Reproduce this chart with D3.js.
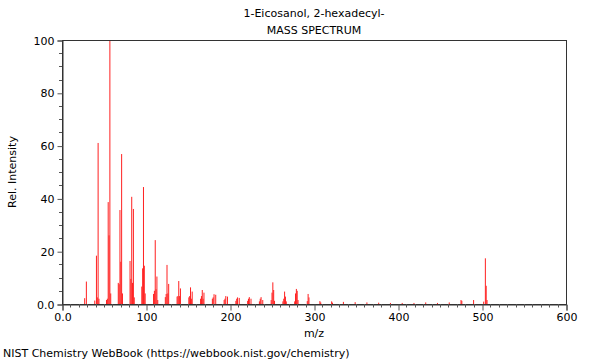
<!DOCTYPE html>
<html><head><meta charset="utf-8">
<script src="https://cdn.jsdelivr.net/npm/d3@7"></script>
<style>body{margin:0;background:#fff}svg{display:block}text{font-family:"DejaVu Sans",sans-serif;fill:#000}</style>
</head><body><svg id="c" width="600" height="360"></svg>
<script>
const titleLines = ["1-Eicosanol, 2-hexadecyl-", "MASS SPECTRUM"];
const xLabel = "m/z";
const yLabel = "Rel. Intensity";
const credit = "NIST Chemistry WebBook (https://webbook.nist.gov/chemistry)";
const xTicks = [0, 100, 200, 300, 400, 500, 600];
const xTickLabels = ["0.0", "100", "200", "300", "400", "500", "600"];
const yTicks = [0, 20, 40, 60, 80, 100];
const yTickLabels = ["0.0", "20", "40", "60", "80", "100"];
const mz = [27,29,39,41,42,43,44,53,54,55,56,57,58,67,68,69,70,71,72,81,82,83,84,85,86,95,96,97,98,99,
  109,110,111,112,113,114,123,124,125,126,127,137,138,139,140,141,151,152,153,154,155,165,166,167,168,169,
  179,180,181,183,193,194,195,197,207,208,209,211,221,222,223,225,235,236,237,239,249,250,251,252,253,
  263,264,265,266,267,277,278,279,280,281,292,293,294,307,308,321,322,335,349,363,377,391,405,419,433,447,461,
  475,476,490,502,504,505,506];
const intensity = [2.2,8.5,1.3,18.3,2.5,61.0,2.0,1.5,2.0,38.6,26.0,100,4.0,8.0,7.5,35.6,16.0,56.8,4.0,16.3,9.5,40.6,8.0,36.0,2.5,6.6,13.5,44.3,14.5,4.0,
  3.8,5.0,24.2,5.6,10.4,1.5,2.6,3.8,14.8,4.0,7.6,2.8,3.0,8.7,3.0,5.9,2.5,3.0,6.3,2.0,4.7,2.0,3.0,5.3,2.0,4.3,
  2.0,2.5,3.7,3.5,1.5,2.0,3.0,2.8,1.2,2.0,2.5,2.3,1.2,2.0,2.6,2.0,1.0,2.0,2.6,1.5,1.5,4.3,8.2,5.3,1.2,
  1.0,2.0,4.7,2.8,1.0,1.0,4.0,5.7,5.0,1.5,1.1,3.8,2.5,1.1,0.6,1.0,0.5,0.8,0.7,0.6,0.5,0.4,0.4,0.4,0.6,0.4,0.6,
  1.5,1.2,1.5,0.9,17.3,6.9,1.5];

const svg = d3.select("#c");
const L = 62, R = 566, T = 40, B = 304;
const x = d3.scaleLinear().domain([0, 600]).range([L, R]);
const y = d3.scaleLinear().domain([0, 100]).range([B, T]);

// peaks
const peaks = mz.map((m, i) => ({m, v: intensity[i]}));
svg.append("g").selectAll("line").data(peaks).join("line")
  .attr("x1", d => x(d.m)).attr("x2", d => x(d.m))
  .attr("y1", y(0)).attr("y2", d => y(d.v))
  .attr("stroke", "#ff2020").attr("stroke-width", 1);

// frame
svg.append("rect").attr("x", L + 0.5).attr("y", T + 0.5).attr("width", R - L).attr("height", B - T)
  .attr("fill", "none").attr("stroke", "#333").attr("stroke-width", 1);

// x axis
const xAxis = d3.axisBottom(x).tickValues(xTicks).tickFormat((d, i) => xTickLabels[i]).tickSize(6).tickPadding(3);
const gx = svg.append("g").attr("transform", `translate(0.5,${B + 0.5})`).call(xAxis);
gx.select(".domain").attr("stroke", "#333");
gx.selectAll(".tick line").attr("stroke", "#555");
gx.selectAll("text").style("font-size", "11px").attr("fill", "#000");
const xMinor = d3.range(0, 601, 10).filter(v => v % 100 !== 0);
svg.append("g").selectAll("line").data(xMinor).join("line")
  .attr("x1", d => Math.round(x(d)) + 0.5).attr("x2", d => Math.round(x(d)) + 0.5)
  .attr("y1", B).attr("y2", B + 3.5).attr("stroke", "#555");

// y axis
const yAxis = d3.axisLeft(y).tickValues(yTicks).tickFormat((d, i) => yTickLabels[i]).tickSize(5).tickPadding(3);
const gy = svg.append("g").attr("transform", `translate(${L + 0.5},0.5)`).call(yAxis);
gy.select(".domain").attr("stroke", "#333");
gy.selectAll(".tick line").attr("stroke", "#555");
gy.selectAll("text").style("font-size", "11px").attr("fill", "#000");
const yMinor = d3.range(0, 101, 5).filter(v => v % 20 !== 0);
svg.append("g").selectAll("line").data(yMinor).join("line")
  .attr("x1", L - 3).attr("x2", L)
  .attr("y1", d => Math.round(y(d)) + 0.5).attr("y2", d => Math.round(y(d)) + 0.5).attr("stroke", "#555");

// titles
svg.append("g").selectAll("text").data(titleLines).join("text")
  .attr("x", (L + R) / 2).attr("y", (d, i) => 17 + i * 17)
  .attr("text-anchor", "middle").style("font-size", "11px").text(d => d);
svg.append("text").attr("x", (L + R) / 2).attr("y", 337).attr("text-anchor", "middle")
  .style("font-size", "11px").text(xLabel);
svg.append("text").attr("transform", `translate(16,${(T + B) / 2}) rotate(-90)`)
  .attr("text-anchor", "middle").style("font-size", "11px").text(yLabel);
svg.append("text").attr("x", 3).attr("y", 357).style("font-size", "11px").text(credit);
</script></body></html>
